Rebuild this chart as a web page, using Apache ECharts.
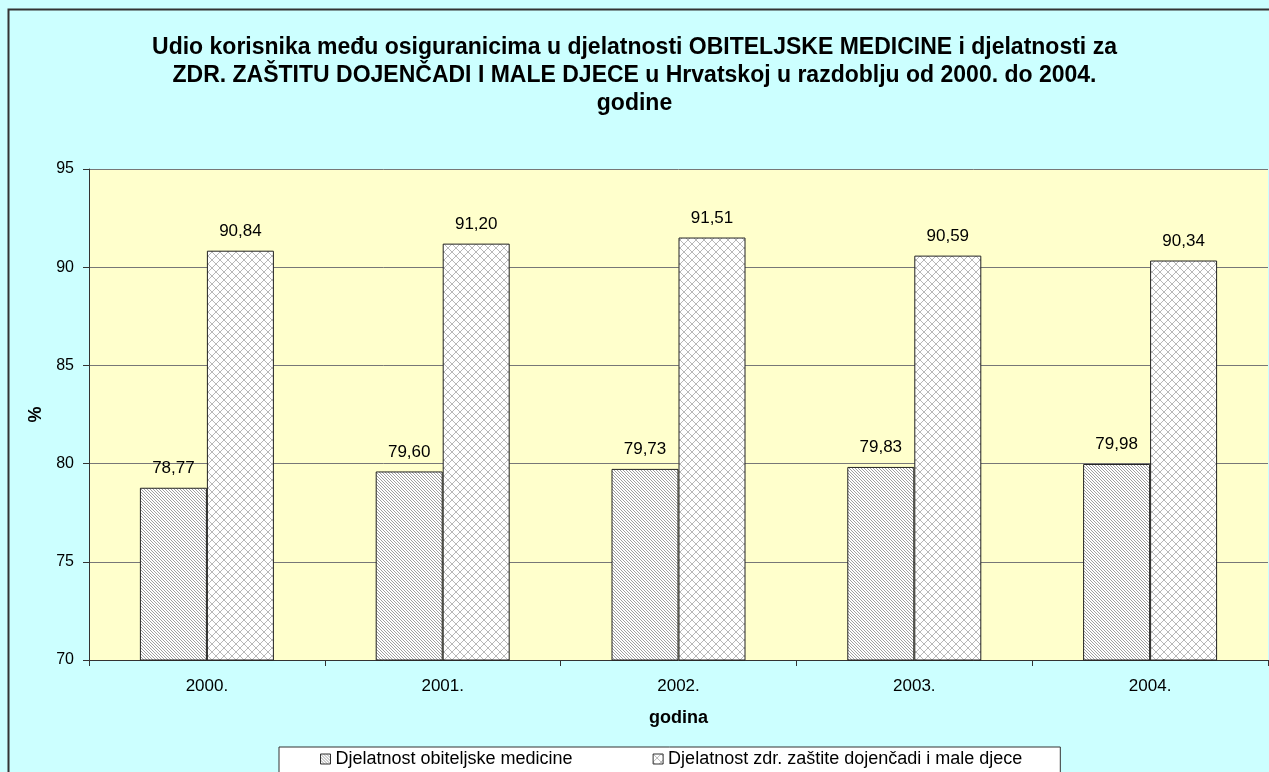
<!DOCTYPE html>
<html>
<head>
<meta charset="utf-8">
<script src="https://cdn.jsdelivr.net/npm/echarts@6/dist/echarts.min.js"></script>
<style>
html,body{margin:0;padding:0;background:#ccffff;}
#main{width:1269px;height:772px;}
</style>
</head>
<body>
<div id="main"></div>
<script>
var years = ['2000.', '2001.', '2002.', '2003.', '2004.'];
var obiteljska = [78.77, 79.60, 79.73, 79.83, 79.98];
var dojencad = [90.84, 91.20, 91.51, 90.59, 90.34];
var seriesNames = ['Djelatnost obiteljske medicine', 'Djelatnost zdr. zaštite dojenčadi i male djece'];

// diagonal stripes (\)
function stripes(){
	var c = document.createElement('canvas');
	c.width = 3; c.height = 3;
	var g = c.getContext('2d');
	g.fillStyle = '#ffffff';
	g.fillRect(0,0,3,3);
	g.fillStyle = '#a0a0a0';
	for(var i=0;i<3;i++){ g.fillRect(i,i,1,1); }
	return c;
}
// diamond lattice
function lattice(){
	var c = document.createElement('canvas');
	c.width = 8; c.height = 8;
	var g = c.getContext('2d');
	g.fillStyle = '#ffffff';
	g.fillRect(0,0,8,8);
	g.fillStyle = '#b8b8b8';
	for(var i=0;i<8;i++){ g.fillRect(i,i,1,1); g.fillRect(7-i,i,1,1); }
	return c;
}

var myChart = echarts.init(document.getElementById('main'));
var labelStyle = {show:true, position:'top', distance:11, color:'#000', fontFamily:'Arial', fontSize:17,
	formatter:function(p){ return p.value.toFixed(2).replace('.', ','); }};

var option = {
	backgroundColor:'#ccffff',
	animation:false,
	title:{
		text:'Udio korisnika među osiguranicima u djelatnosti OBITELJSKE MEDICINE i djelatnosti za\nZDR. ZAŠTITU DOJENČADI I MALE DJECE u Hrvatskoj u razdoblju od 2000. do 2004.\ngodine',
		left:'center', top:29,
		textStyle:{fontFamily:'Arial', fontWeight:'bold', fontSize:23, lineHeight:28, color:'#000'}
	},
	graphic:[
		{type:'rect', shape:{x:8.5, y:9.5, width:1300, height:800}, style:{fill:'none', stroke:'#333', lineWidth:2}, silent:true, z:-1}
	],
	legend:{
		data:seriesNames,
		left:279, top:747,
		backgroundColor:'#ffffff',
		borderColor:'#333', borderWidth:1, borderRadius:0,
		padding:[3,38,10,41],
		itemGap:80,
		itemWidth:10, itemHeight:10,
		icon:'rect',
		textStyle:{fontFamily:'Arial', fontSize:18, color:'#000'},
		itemStyle:{borderColor:'#333', borderWidth:1}
	},
	grid:{left:89, right:1, top:169, bottom:112},
	xAxis:{
		type:'category', data:years,
		name:'godina', nameLocation:'middle', nameGap:49,
		nameTextStyle:{fontFamily:'Arial', fontWeight:'bold', fontSize:18, color:'#000'},
		axisLine:{lineStyle:{color:'#333'}},
		axisTick:{show:true, length:6, lineStyle:{color:'#333'}},
		axisLabel:{fontFamily:'Arial', fontSize:17, color:'#000', margin:18}
	},
	yAxis:{
		type:'value', min:70, max:95, interval:5,
		name:'%', nameLocation:'middle', nameGap:37, nameRotate:90,
		nameTextStyle:{fontFamily:'Arial', fontWeight:'bold', fontSize:18, color:'#000'},
		axisLine:{show:true, lineStyle:{color:'#333'}},
		axisTick:{show:true, length:6, lineStyle:{color:'#333'}},
		axisLabel:{fontFamily:'Arial', fontSize:16, color:'#000', margin:15},
		splitLine:{lineStyle:{color:'#777', width:1}},
		splitArea:{show:true, areaStyle:{color:['#ffffcc']}}
	},
	series:[
		{name:seriesNames[0], type:'bar', data:obiteljska, barWidth:67, barGap:'0%',
			itemStyle:{color:{image:stripes(), repeat:'repeat'}, borderColor:'#222', borderWidth:1},
			label:labelStyle},
		{name:seriesNames[1], type:'bar', data:dojencad, barWidth:67,
			itemStyle:{color:{image:lattice(), repeat:'repeat'}, borderColor:'#222', borderWidth:1},
			label:labelStyle}
	]
};
myChart.setOption(option);
</script>
</body>
</html>
